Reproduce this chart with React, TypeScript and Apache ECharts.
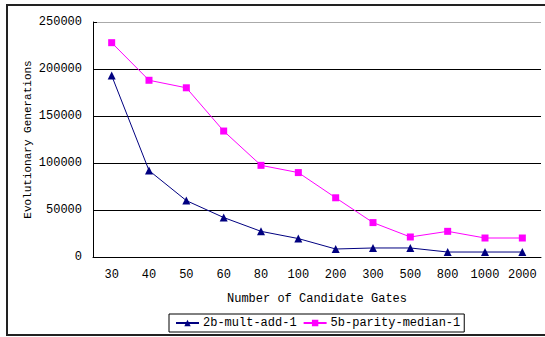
import React, { useEffect, useRef } from "react";
import * as echarts from "echarts";

const categories = ["30", "40", "50", "60", "80", "100", "200", "300", "500", "800", "1000", "2000"];
const multAdd = [193000, 92000, 60000, 42000, 27300, 19600, 8500, 9600, 9600, 5300, 5300, 5300];
const parityMedian = [228000, 188000, 180000, 134000, 97500, 89800, 63000, 36600, 21300, 27300, 20200, 20200];
const seriesNames = ["2b-mult-add-1", "5b-parity-median-1"];
const xTitle = "Number of Candidate Gates";
const yTitle = "Evolutionary Generations";

const FONT = "Liberation Mono";

export default function App() {
  const ref = useRef<HTMLDivElement>(null);
  useEffect(() => {
    if (!ref.current) return;
    const chart = echarts.init(ref.current, undefined, { renderer: "svg" });
    chart.setOption({
      animation: false,
      backgroundColor: "#fff",
      textStyle: { fontFamily: FONT, color: "#000" },
      graphic: [
        {
          type: "rect",
          shape: { x: 7, y: 5, width: 560, height: 330 },
          style: { fill: "none", stroke: "#222", lineWidth: 2 },
          z: -1,
        },
      ],
      grid: { left: 93, top: 22, right: 4, bottom: 80 },
      legend: {
        left: 169,
        top: 314,
        itemWidth: 23,
        itemHeight: 8,
        itemGap: 6,
        padding: [3, 4, 3, 6],
        borderColor: "#000",
        borderWidth: 1,
        textStyle: { fontFamily: FONT, fontSize: 12, color: "#000", padding: [0, 0, 0, -1] },
        data: seriesNames,
      },
      xAxis: {
        type: "category",
        data: categories,
        boundaryGap: true,
        name: xTitle,
        nameLocation: "middle",
        nameGap: 36,
        nameTextStyle: { fontFamily: FONT, fontSize: 12, color: "#000" },
        axisLine: { lineStyle: { color: "#000", width: 1 } },
        axisTick: { inside: true, length: 4, lineStyle: { color: "#000" } },
        axisLabel: { margin: 12, fontFamily: FONT, fontSize: 12, color: "#000", interval: 0 },
      },
      yAxis: {
        type: "value",
        min: 0,
        max: 250000,
        interval: 50000,
        name: yTitle,
        nameLocation: "middle",
        nameRotate: 90,
        nameGap: 60,
        nameMoveOverlap: false,
        nameTextStyle: { fontFamily: FONT, fontSize: 11, color: "#000" },
        axisLine: { show: true, lineStyle: { color: "#000", width: 1 } },
        axisTick: { show: true, inside: true, length: 4, lineStyle: { color: "#000" } },
        axisLabel: {
          margin: 11,
          fontFamily: FONT,
          fontSize: 12,
          color: "#000",
          formatter: (v: number) => String(v),
        },
        splitLine: {
          show: true,
          lineStyle: { color: ["#000", "#000", "#000", "#000", "#000", "#aaa"], width: 1 },
        },
      },
      series: [
        {
          name: seriesNames[0],
          type: "line",
          data: multAdd,
          symbol: "triangle",
          symbolSize: 8,
          lineStyle: { color: "#000080", width: 1 },
          itemStyle: { color: "#000080" },
        },
        {
          name: seriesNames[1],
          type: "line",
          data: parityMedian,
          symbol: "rect",
          symbolSize: 7,
          lineStyle: { color: "#ff00ff", width: 1 },
          itemStyle: { color: "#ff00ff" },
        },
      ],
    });
    return () => chart.dispose();
  }, []);
  return (
    <div
      ref={ref}
      style={{ position: "absolute", left: 0, top: 0, width: 545, height: 337 }}
    />
  );
}
